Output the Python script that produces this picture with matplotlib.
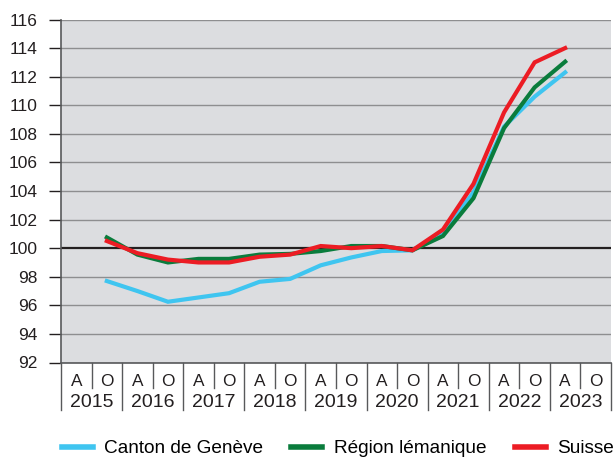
import numpy as np
import matplotlib
matplotlib.use("Agg")
import matplotlib.pyplot as plt
import matplotlib.transforms as mtransforms

plt.rcParams['font.family'] = ['Liberation Sans', 'DejaVu Sans']

# semesters (A = avril, O = octobre) and the yearly groups on the x axis
years = ['2015', '2016', '2017', '2018', '2019', '2020', '2021', '2022', '2023']
halves = ['A', 'O']
# series start in O 2015 and end in A 2023
first_slot = 1

geneve = [97.7, 97.0, 96.25, 96.55, 96.85, 97.65, 97.85, 98.8, 99.35, 99.8,
          99.85, 101.1, 103.9, 108.5, 110.6, 112.3]
lemanique = [100.75, 99.55, 99.0, 99.25, 99.25, 99.55, 99.6, 99.8, 100.15, 100.15,
             99.85, 100.85, 103.5, 108.4, 111.25, 113.05]
suisse = [100.5, 99.65, 99.2, 99.0, 99.0, 99.4, 99.55, 100.15, 100.0, 100.15,
          99.85, 101.3, 104.5, 109.5, 113.0, 114.0]

y_ticks = np.arange(92, 117, 2)

fig = plt.figure(figsize=(6.16, 4.59), dpi=100)
ax = fig.add_axes([61 / 616, 1 - 362.5 / 459, 550 / 616, 343 / 459])
ax.set_facecolor('#dcdde0')

n_slots = len(years) * len(halves)
ax.set_xlim(0, n_slots)
ax.set_ylim(92, 116)

# horizontal grid, with the base 100 line drawn darker
for v in y_ticks:
    if v == 100:
        ax.axhline(v, color='#231f20', lw=1.6, zorder=1)
    else:
        ax.axhline(v, color='#8e8e90', lw=1.0, zorder=1)

x = np.arange(len(geneve)) + first_slot + 0.5
ax.plot(x, geneve, color='#3fc5f0', lw=3.0, solid_joinstyle='miter', zorder=3, label='Canton de Genève')
ax.plot(x, lemanique, color='#0a7c3c', lw=3.0, solid_joinstyle='miter', zorder=4, label='Région lémanique')
ax.plot(x, suisse, color='#ec1c24', lw=3.0, solid_joinstyle='miter', zorder=5, label='Suisse')

for side in ['top', 'right']:
    ax.spines[side].set_visible(False)
ax.spines['left'].set_color('#58595b')
ax.spines['left'].set_linewidth(1.2)
ax.spines['bottom'].set_color('#58595b')
ax.spines['bottom'].set_linewidth(1.2)

ax.set_yticks(y_ticks)
ax.tick_params(axis='y', direction='out', length=9, width=1.0, color='#231f20',
               pad=8, labelsize=12.5, labelcolor='#231f20')
ax.set_xticks([])

# category axis drawn by hand: A/O labels with short separators, years with long ones
trans = mtransforms.blended_transform_factory(ax.transData, ax.transAxes)
for i in range(n_slots + 1):
    is_year_edge = i % 2 == 0
    y_end = -0.138 if is_year_edge else -0.074
    ax.plot([i, i], [0, y_end], transform=trans, color='#58595b', lw=1.0, clip_on=False)
for i in range(n_slots):
    ax.text(i + 0.5, -0.054, halves[i % 2], transform=trans, ha='center', va='center',
            fontsize=12.4, color='#231f20')
for k, yr in enumerate(years):
    ax.text(2 * k + 1, -0.118, yr, transform=trans, ha='center', va='center',
            fontsize=14, color='#231f20')

fig.legend(loc='center left', bbox_to_anchor=(61.5 / 616, 1 - 448.5 / 459), ncol=3,
           frameon=False, fontsize=13.7, handlelength=1.63, handletextpad=0.6,
           columnspacing=1.5, borderaxespad=0, borderpad=0)
for line in fig.legends[0].get_lines():
    line.set_linewidth(4.0)

fig.savefig('out.png', dpi=100)
